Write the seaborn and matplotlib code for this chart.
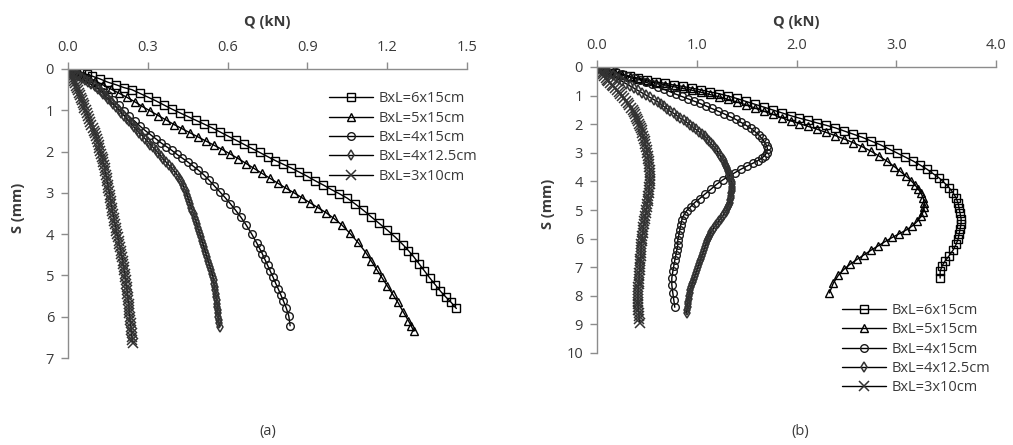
import matplotlib
matplotlib.use("Agg")
import matplotlib.pyplot as plt
import seaborn as sns

sns.set_style("white")
plt.rcParams["font.family"] = ["Open Sans", "DejaVu Sans"]

labels = ["BxL=6x15cm", "BxL=5x15cm", "BxL=4x15cm", "BxL=4x12.5cm", "BxL=3x10cm"]

# ---------------- (a) load Q (kN) vs settlement S (mm) ----------------
a_q_6x15 = [0.00, 0.01, 0.02, 0.03, 0.05, 0.07, 0.09, 0.12, 0.15, 0.18,
            0.21, 0.24, 0.27, 0.30, 0.33, 0.36, 0.39, 0.42, 0.45, 0.48,
            0.51, 0.54, 0.57, 0.60, 0.63, 0.66, 0.69, 0.72, 0.75, 0.78,
            0.81, 0.84, 0.87, 0.90, 0.93, 0.96, 0.99, 1.02, 1.05, 1.08,
            1.11, 1.14, 1.17, 1.20, 1.23, 1.26, 1.28, 1.30, 1.32, 1.34,
            1.36, 1.38, 1.40, 1.42, 1.44, 1.46]
a_s_6x15 = [0.00, 0.01, 0.03, 0.05, 0.08, 0.13, 0.17, 0.24, 0.32, 0.38,
            0.45, 0.50, 0.59, 0.68, 0.77, 0.87, 0.97, 1.06, 1.15, 1.24,
            1.33, 1.42, 1.52, 1.62, 1.72, 1.82, 1.92, 2.02, 2.12, 2.22,
            2.31, 2.40, 2.50, 2.60, 2.71, 2.81, 2.92, 3.02, 3.13, 3.27,
            3.42, 3.58, 3.74, 3.90, 4.07, 4.26, 4.40, 4.55, 4.72, 4.89,
            5.06, 5.22, 5.38, 5.52, 5.65, 5.80]

a_q_5x15 = [0.00, 0.01, 0.02, 0.04, 0.06, 0.08, 0.10, 0.13, 0.16, 0.19,
            0.22, 0.25, 0.28, 0.31, 0.34, 0.37, 0.40, 0.43, 0.46, 0.49,
            0.52, 0.55, 0.58, 0.61, 0.64, 0.67, 0.70, 0.73, 0.76, 0.79,
            0.82, 0.85, 0.88, 0.91, 0.94, 0.97, 1.00, 1.03, 1.06, 1.09,
            1.12, 1.14, 1.16, 1.18, 1.20, 1.22, 1.24, 1.26, 1.28, 1.29,
            1.30]
a_s_5x15 = [0.00, 0.02, 0.05, 0.10, 0.17, 0.22, 0.28, 0.38, 0.48, 0.58,
            0.68, 0.79, 0.91, 1.02, 1.13, 1.24, 1.35, 1.45, 1.55, 1.65,
            1.75, 1.85, 1.95, 2.06, 2.17, 2.29, 2.41, 2.53, 2.65, 2.77,
            2.89, 3.00, 3.12, 3.24, 3.36, 3.48, 3.62, 3.78, 3.98, 4.20,
            4.45, 4.65, 4.85, 5.05, 5.25, 5.45, 5.65, 5.88, 6.10, 6.22,
            6.35]

a_q_4x15 = [0.00, 0.01, 0.02, 0.03, 0.05, 0.07, 0.09, 0.11, 0.13, 0.15,
            0.17, 0.19, 0.21, 0.23, 0.25, 0.27, 0.29, 0.31, 0.33, 0.35,
            0.37, 0.39, 0.41, 0.43, 0.45, 0.47, 0.49, 0.51, 0.53, 0.55,
            0.57, 0.59, 0.61, 0.63, 0.65, 0.67, 0.69, 0.71, 0.72, 0.73,
            0.74, 0.75, 0.76, 0.77, 0.78, 0.79, 0.80, 0.81, 0.82, 0.83,
            0.835]
a_s_4x15 = [0.00, 0.03, 0.06, 0.10, 0.16, 0.25, 0.33, 0.44, 0.55, 0.63,
            0.75, 0.88, 1.02, 1.15, 1.26, 1.38, 1.49, 1.59, 1.69, 1.79,
            1.88, 1.97, 2.07, 2.16, 2.25, 2.35, 2.45, 2.56, 2.69, 2.83,
            2.97, 3.11, 3.26, 3.42, 3.59, 3.78, 3.99, 4.22, 4.34, 4.47,
            4.61, 4.75, 4.89, 5.03, 5.18, 5.32, 5.47, 5.62, 5.78, 5.98,
            6.22]

a_q_4x125 = [0.000, 0.008, 0.016, 0.025, 0.034, 0.043, 0.052, 0.063, 0.074, 0.085,
             0.100, 0.112, 0.123, 0.133, 0.143, 0.152, 0.161, 0.171, 0.181, 0.190,
             0.201, 0.211, 0.220, 0.230, 0.239, 0.249, 0.258, 0.268, 0.280, 0.290,
             0.300, 0.310, 0.320, 0.330, 0.340, 0.349, 0.358, 0.368, 0.378, 0.390,
             0.400, 0.410, 0.418, 0.425, 0.431, 0.437, 0.442, 0.447, 0.451, 0.456,
             0.460, 0.464, 0.468, 0.472, 0.476, 0.480, 0.484, 0.487, 0.491, 0.495,
             0.499, 0.503, 0.507, 0.511, 0.515, 0.519, 0.523, 0.527, 0.531, 0.535,
             0.539, 0.542, 0.545, 0.547, 0.549, 0.551, 0.553, 0.555, 0.557, 0.559,
             0.560, 0.561, 0.563, 0.564, 0.565, 0.566, 0.568, 0.570]
a_s_4x125 = [0.00, 0.03, 0.06, 0.10, 0.14, 0.18, 0.22, 0.27, 0.32, 0.37,
             0.42, 0.48, 0.54, 0.60, 0.66, 0.72, 0.78, 0.85, 0.92, 0.99,
             1.06, 1.13, 1.20, 1.27, 1.34, 1.41, 1.48, 1.55, 1.62, 1.69,
             1.76, 1.83, 1.90, 1.97, 2.04, 2.11, 2.18, 2.25, 2.32, 2.40,
             2.48, 2.56, 2.64, 2.72, 2.80, 2.88, 2.96, 3.04, 3.12, 3.20,
             3.28, 3.36, 3.44, 3.52, 3.60, 3.68, 3.76, 3.84, 3.92, 4.00,
             4.08, 4.16, 4.24, 4.32, 4.40, 4.48, 4.56, 4.64, 4.72, 4.80,
             4.88, 4.96, 5.04, 5.12, 5.20, 5.28, 5.36, 5.44, 5.52, 5.60,
             5.68, 5.76, 5.84, 5.92, 6.00, 6.08, 6.16, 6.25]

a_q_3x10 = [0.000, 0.003, 0.006, 0.009, 0.012, 0.015, 0.019, 0.022, 0.025, 0.029,
            0.032, 0.036, 0.040, 0.044, 0.047, 0.052, 0.055, 0.059, 0.062, 0.066,
            0.071, 0.075, 0.079, 0.084, 0.088, 0.093, 0.096, 0.101, 0.104, 0.108,
            0.111, 0.115, 0.118, 0.122, 0.124, 0.128, 0.130, 0.133, 0.135, 0.138,
            0.140, 0.143, 0.145, 0.148, 0.150, 0.152, 0.155, 0.157, 0.159, 0.161,
            0.163, 0.165, 0.167, 0.169, 0.172, 0.174, 0.177, 0.179, 0.182, 0.185,
            0.187, 0.190, 0.192, 0.195, 0.198, 0.200, 0.203, 0.205, 0.207, 0.209,
            0.212, 0.213, 0.215, 0.217, 0.219, 0.220, 0.222, 0.223, 0.225, 0.226,
            0.228, 0.229, 0.230, 0.231, 0.232, 0.233, 0.235, 0.236, 0.238, 0.239,
            0.240, 0.242, 0.243]
a_s_3x10 = [0.00, 0.04, 0.08, 0.12, 0.16, 0.20, 0.25, 0.30, 0.35, 0.40,
            0.46, 0.52, 0.58, 0.64, 0.70, 0.76, 0.82, 0.88, 0.94, 1.00,
            1.07, 1.14, 1.21, 1.28, 1.35, 1.42, 1.49, 1.56, 1.63, 1.70,
            1.77, 1.84, 1.91, 1.98, 2.05, 2.12, 2.19, 2.26, 2.33, 2.40,
            2.48, 2.56, 2.64, 2.72, 2.80, 2.88, 2.96, 3.04, 3.12, 3.20,
            3.28, 3.36, 3.44, 3.52, 3.60, 3.68, 3.76, 3.84, 3.92, 4.00,
            4.08, 4.16, 4.24, 4.32, 4.40, 4.48, 4.56, 4.64, 4.72, 4.80,
            4.88, 4.96, 5.04, 5.12, 5.20, 5.28, 5.36, 5.44, 5.52, 5.60,
            5.68, 5.76, 5.84, 5.92, 6.00, 6.08, 6.16, 6.24, 6.32, 6.40,
            6.48, 6.56, 6.64]

# ---------------- (b) load Q (kN) vs settlement S (mm) ----------------
b_q_6x15 = [0.00, 0.03, 0.07, 0.12, 0.18, 0.25, 0.33, 0.41, 0.50, 0.59,
            0.68, 0.77, 0.86, 0.95, 1.04, 1.13, 1.22, 1.31, 1.40, 1.49,
            1.58, 1.67, 1.76, 1.85, 1.94, 2.03, 2.12, 2.21, 2.30, 2.39,
            2.48, 2.57, 2.66, 2.75, 2.84, 2.93, 3.01, 3.09, 3.17, 3.24,
            3.31, 3.37, 3.43, 3.48, 3.53, 3.57, 3.60, 3.62, 3.63, 3.64,
            3.65, 3.65, 3.64, 3.63, 3.62, 3.60, 3.57, 3.53, 3.49, 3.46,
            3.44, 3.44]
b_s_6x15 = [0.00, 0.04, 0.09, 0.15, 0.21, 0.27, 0.33, 0.39, 0.45, 0.52,
            0.57, 0.63, 0.68, 0.74, 0.80, 0.87, 0.93, 1.01, 1.10, 1.20,
            1.30, 1.40, 1.50, 1.60, 1.70, 1.79, 1.87, 1.96, 2.04, 2.13,
            2.24, 2.35, 2.46, 2.59, 2.72, 2.87, 3.01, 3.15, 3.29, 3.43,
            3.58, 3.73, 3.88, 4.04, 4.22, 4.40, 4.58, 4.76, 4.94, 5.12,
            5.30, 5.48, 5.66, 5.84, 6.02, 6.20, 6.40, 6.60, 6.78, 6.95,
            7.15, 7.38]

b_q_5x15 = [0.00, 0.03, 0.07, 0.12, 0.18, 0.25, 0.33, 0.41, 0.50, 0.59,
            0.68, 0.77, 0.86, 0.95, 1.04, 1.13, 1.22, 1.31, 1.40, 1.49,
            1.58, 1.67, 1.76, 1.85, 1.94, 2.03, 2.12, 2.21, 2.30, 2.39,
            2.48, 2.57, 2.66, 2.75, 2.83, 2.91, 2.98, 3.04, 3.10, 3.15,
            3.19, 3.22, 3.25, 3.27, 3.28, 3.28, 3.27, 3.25, 3.21, 3.16,
            3.10, 3.03, 2.96, 2.89, 2.82, 2.75, 2.68, 2.61, 2.54, 2.48,
            2.42, 2.37, 2.33]
b_s_5x15 = [0.00, 0.05, 0.10, 0.16, 0.22, 0.29, 0.36, 0.42, 0.49, 0.56,
            0.62, 0.69, 0.75, 0.81, 0.88, 0.96, 1.04, 1.13, 1.22, 1.32,
            1.43, 1.54, 1.65, 1.77, 1.88, 1.98, 2.08, 2.18, 2.29, 2.40,
            2.52, 2.65, 2.79, 2.95, 3.12, 3.30, 3.48, 3.65, 3.82, 3.98,
            4.13, 4.27, 4.42, 4.58, 4.74, 4.90, 5.06, 5.22, 5.40, 5.56,
            5.70, 5.83, 5.96, 6.10, 6.25, 6.40, 6.56, 6.72, 6.89, 7.06,
            7.28, 7.55, 7.90]

b_q_4x15 = [0.00, 0.04, 0.08, 0.13, 0.19, 0.25, 0.31, 0.37, 0.43, 0.49,
            0.55, 0.61, 0.67, 0.73, 0.79, 0.85, 0.91, 0.97, 1.03, 1.09,
            1.15, 1.21, 1.27, 1.33, 1.39, 1.44, 1.49, 1.54, 1.58, 1.62,
            1.65, 1.68, 1.70, 1.71, 1.70, 1.68, 1.65, 1.61, 1.56, 1.50,
            1.44, 1.38, 1.32, 1.26, 1.20, 1.14, 1.08, 1.03, 0.98, 0.94,
            0.90, 0.87, 0.85, 0.84, 0.83, 0.82, 0.81, 0.81, 0.80, 0.79,
            0.78, 0.77, 0.76, 0.75, 0.75, 0.76, 0.77, 0.78]
b_s_4x15 = [0.00, 0.03, 0.07, 0.12, 0.18, 0.24, 0.31, 0.38, 0.45, 0.53,
            0.61, 0.70, 0.78, 0.86, 0.95, 1.03, 1.11, 1.19, 1.27, 1.36,
            1.45, 1.54, 1.63, 1.73, 1.83, 1.93, 2.03, 2.14, 2.25, 2.37,
            2.49, 2.62, 2.75, 2.88, 3.00, 3.10, 3.19, 3.28, 3.37, 3.47,
            3.58, 3.70, 3.82, 3.95, 4.10, 4.28, 4.45, 4.60, 4.74, 4.88,
            5.02, 5.18, 5.35, 5.52, 5.70, 5.88, 6.05, 6.22, 6.40, 6.58,
            6.76, 6.95, 7.15, 7.38, 7.62, 7.90, 8.15, 8.40]

b_q_4x125 = [0.00, 0.03, 0.06, 0.09, 0.12, 0.16, 0.19, 0.22, 0.25, 0.29,
             0.33, 0.37, 0.41, 0.45, 0.49, 0.53, 0.57, 0.61, 0.64, 0.67,
             0.70, 0.73, 0.77, 0.80, 0.83, 0.87, 0.90, 0.93, 0.96, 0.99,
             1.02, 1.05, 1.08, 1.10, 1.12, 1.14, 1.16, 1.18, 1.20, 1.21,
             1.23, 1.24, 1.26, 1.27, 1.28, 1.29, 1.30, 1.31, 1.32, 1.33,
             1.33, 1.34, 1.35, 1.35, 1.35, 1.35, 1.35, 1.34, 1.34, 1.34,
             1.33, 1.33, 1.32, 1.31, 1.30, 1.29, 1.27, 1.26, 1.24, 1.22,
             1.21, 1.19, 1.17, 1.16, 1.14, 1.13, 1.12, 1.11, 1.10, 1.09,
             1.08, 1.07, 1.06, 1.05, 1.04, 1.03, 1.02, 1.01, 1.00, 0.99,
             0.98, 0.97, 0.96, 0.95, 0.94, 0.93, 0.93, 0.92, 0.92, 0.91,
             0.91, 0.91, 0.90, 0.90]
b_s_4x125 = [0.00, 0.05, 0.10, 0.16, 0.22, 0.29, 0.36, 0.43, 0.50, 0.58,
             0.66, 0.74, 0.82, 0.90, 0.98, 1.06, 1.14, 1.22, 1.30, 1.38,
             1.46, 1.54, 1.62, 1.70, 1.78, 1.86, 1.94, 2.02, 2.10, 2.18,
             2.26, 2.34, 2.42, 2.50, 2.58, 2.66, 2.74, 2.82, 2.90, 2.98,
             3.06, 3.14, 3.22, 3.30, 3.38, 3.46, 3.54, 3.62, 3.70, 3.78,
             3.86, 3.94, 4.02, 4.10, 4.18, 4.26, 4.34, 4.42, 4.50, 4.58,
             4.66, 4.74, 4.82, 4.90, 4.98, 5.06, 5.14, 5.22, 5.30, 5.38,
             5.46, 5.54, 5.62, 5.70, 5.78, 5.86, 5.94, 6.02, 6.10, 6.20,
             6.30, 6.40, 6.50, 6.60, 6.70, 6.80, 6.90, 7.00, 7.10, 7.20,
             7.30, 7.40, 7.50, 7.60, 7.70, 7.80, 7.90, 8.00, 8.10, 8.20,
             8.30, 8.40, 8.50, 8.60]

b_q_3x10 = [0.000, 0.012, 0.025, 0.037, 0.050, 0.062, 0.075, 0.087, 0.100, 0.113,
            0.130, 0.147, 0.163, 0.180, 0.198, 0.216, 0.234, 0.252, 0.270, 0.290,
            0.308, 0.325, 0.341, 0.356, 0.370, 0.383, 0.395, 0.406, 0.416, 0.425,
            0.433, 0.441, 0.448, 0.455, 0.463, 0.471, 0.479, 0.486, 0.492, 0.498,
            0.503, 0.508, 0.513, 0.517, 0.521, 0.524, 0.527, 0.528, 0.529, 0.529,
            0.528, 0.527, 0.524, 0.521, 0.518, 0.515, 0.511, 0.507, 0.503, 0.499,
            0.495, 0.490, 0.485, 0.480, 0.475, 0.470, 0.466, 0.462, 0.458, 0.455,
            0.452, 0.449, 0.446, 0.444, 0.442, 0.440, 0.438, 0.436, 0.434, 0.432,
            0.430, 0.428, 0.426, 0.424, 0.422, 0.420, 0.418, 0.416, 0.414, 0.412,
            0.410, 0.410, 0.411, 0.412, 0.414, 0.416, 0.418, 0.421, 0.424, 0.430]
b_s_3x10 = [0.00, 0.05, 0.10, 0.15, 0.20, 0.26, 0.32, 0.38, 0.44, 0.50,
            0.56, 0.62, 0.68, 0.75, 0.82, 0.89, 0.96, 1.03, 1.10, 1.18,
            1.26, 1.34, 1.42, 1.50, 1.58, 1.66, 1.74, 1.82, 1.90, 1.98,
            2.06, 2.14, 2.22, 2.30, 2.40, 2.50, 2.60, 2.70, 2.80, 2.90,
            3.00, 3.10, 3.20, 3.30, 3.40, 3.50, 3.60, 3.70, 3.80, 3.90,
            4.00, 4.10, 4.20, 4.30, 4.40, 4.50, 4.60, 4.70, 4.80, 4.90,
            5.00, 5.10, 5.20, 5.30, 5.40, 5.50, 5.60, 5.70, 5.80, 5.90,
            6.00, 6.10, 6.20, 6.30, 6.40, 6.50, 6.60, 6.70, 6.80, 6.90,
            7.00, 7.10, 7.20, 7.30, 7.40, 7.50, 7.60, 7.70, 7.80, 7.90,
            8.00, 8.10, 8.20, 8.30, 8.40, 8.50, 8.60, 8.70, 8.80, 8.95]

panel_a = [(a_q_6x15, a_s_6x15), (a_q_5x15, a_s_5x15), (a_q_4x15, a_s_4x15),
           (a_q_4x125, a_s_4x125), (a_q_3x10, a_s_3x10)]
panel_b = [(b_q_6x15, b_s_6x15), (b_q_5x15, b_s_5x15), (b_q_4x15, b_s_4x15),
           (b_q_4x125, b_s_4x125), (b_q_3x10, b_s_3x10)]

a_xticks = [0.0, 0.3, 0.6, 0.9, 1.2, 1.5]
a_yticks = [0, 1, 2, 3, 4, 5, 6, 7]
b_xticks = [0.0, 1.0, 2.0, 3.0, 4.0]
b_yticks = [0, 1, 2, 3, 4, 5, 6, 7, 8, 9, 10]

marker_styles = [
    dict(marker="s", markersize=6.0, color="black", markeredgecolor="black",
         markeredgewidth=1.0),
    dict(marker="^", markersize=6.0, color="black", markeredgecolor="black",
         markeredgewidth=1.0),
    dict(marker="o", markersize=5.5, color="black", markeredgecolor="#1a1a1a",
         markeredgewidth=1.0),
    dict(marker="d", markersize=5.5, color="black", markeredgecolor="#333333",
         markeredgewidth=1.1),
    dict(marker="x", markersize=7.0, color="black", markeredgecolor="#333333",
         markeredgewidth=1.1),
]

W, H = 1013, 445
fig = plt.figure(figsize=(W / 100, H / 100), dpi=100)
ax_a = fig.add_axes([68 / W, 1 - 358 / H, 399 / W, 289 / H])
ax_b = fig.add_axes([597 / W, 1 - 353 / H, 399 / W, 286 / H])

spine_col = "#8c8c8c"
text_col = "#3a3a3a"


def draw_panel(ax, series, xticks, yticks, xmax, ymax, leg_anchor, xlab_y, ylab_x):
    for (q, s), lab, st in zip(series, labels, marker_styles):
        sns.lineplot(x=q, y=s, ax=ax, sort=False, estimator=None,
                     linewidth=1.0, markerfacecolor="none", label=lab, **st)
    ax.set_xlim(0, xmax)
    ax.set_ylim(ymax, 0)
    ax.xaxis.tick_top()
    ax.xaxis.set_label_position("top")
    ax.set_xticks(xticks)
    ax.set_xticklabels([f"{t:.1f}" for t in xticks])
    ax.set_yticks(yticks)
    ax.set_yticklabels([str(t) for t in yticks])
    ax.set_xlabel("Q (kN)", fontsize=10.5, fontweight="bold", color=text_col)
    ax.set_ylabel("S (mm)", fontsize=10.5, fontweight="bold", color=text_col)
    ax.xaxis.set_label_coords(0.5, xlab_y)
    ax.yaxis.set_label_coords(ylab_x, 0.52)
    for side in ("right", "bottom"):
        ax.spines[side].set_visible(False)
    for side in ("top", "left"):
        ax.spines[side].set_color(spine_col)
        ax.spines[side].set_linewidth(1.0)
    ax.tick_params(axis="both", which="major", direction="out", length=5,
                   width=1.0, color=spine_col, labelsize=10.5, labelcolor=text_col,
                   pad=5)
    ax.tick_params(axis="x", top=True, bottom=False)
    ax.tick_params(axis="y", left=True, right=False)
    ax.set_facecolor("white")
    ax.grid(False)
    ax.legend(loc="upper left", bbox_to_anchor=leg_anchor, frameon=False,
              fontsize=10.5, handlelength=3.0, handletextpad=0.35,
              labelspacing=0.3, borderpad=0, borderaxespad=0,
              labelcolor=text_col)


draw_panel(ax_a, panel_a, a_xticks, a_yticks, 1.5, 7, (0.655, 0.923), 1.149, -0.108)
draw_panel(ax_b, panel_b, b_xticks, b_yticks, 4.0, 10, (0.615, 0.175), 1.143, -0.105)

fig.text(268 / W, 1 - 431 / H, "(a)", ha="center", va="center", fontsize=10.5, color=text_col)
fig.text(800 / W, 1 - 431 / H, "(b)", ha="center", va="center", fontsize=10.5, color=text_col)

fig.savefig("out.png", dpi=100, facecolor="white")
